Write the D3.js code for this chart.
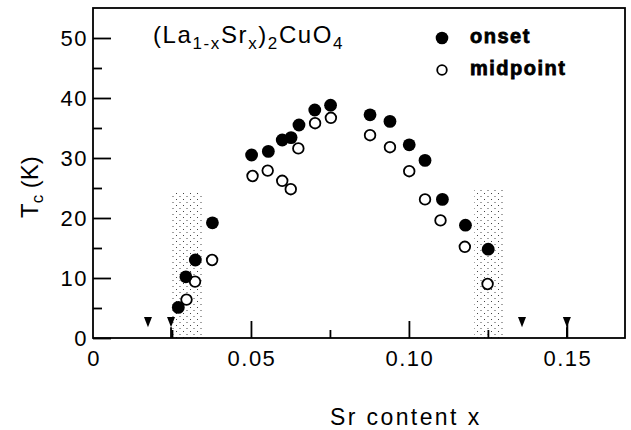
<!DOCTYPE html>
<html><head><meta charset="utf-8">
<script src="https://cdn.jsdelivr.net/npm/d3@7"></script>
<style>body{margin:0;background:#fff}svg{display:block}text{font-family:"Liberation Sans",Arial,sans-serif;fill:#000}</style>
</head><body>
<svg id="c" width="631" height="430"></svg>
<script>
const onsetX = [0.0270,0.0294,0.0324,0.0378,0.0502,0.0555,0.0599,0.0627,0.0652,0.0702,0.0752,0.0877,0.0940,0.1001,0.1051,0.1106,0.1179,0.1251];
const onsetY = [5.1,10.2,13.0,19.2,30.5,31.1,33.0,33.4,35.5,38.0,38.8,37.2,36.1,32.2,29.6,23.1,18.8,14.8];
const midX = [0.0296,0.0323,0.0377,0.0505,0.0553,0.0599,0.0626,0.0650,0.0703,0.0753,0.0877,0.0940,0.1001,0.1051,0.1100,0.1177,0.1249];
const midY = [6.4,9.4,13.0,27.0,27.9,26.2,24.8,31.6,35.8,36.7,33.8,31.8,27.8,23.1,19.6,15.2,9.0];
const shadeX0 = [0.0250,0.1206];
const shadeX1 = [0.0351,0.1304];
const shadeTop = [24.5,25.0];
const arrowX = [0.0174,0.0247,0.1358,0.150];
const xTicks = [0,0.05,0.10,0.15];
const xTickLabels = ["0","0.05","0.10","0.15"];
const xMinor = [0.025,0.075,0.125];
const yTicks = [0,10,20,30,40,50];
const yMinor = [5,15,25,35,45];

const svg = d3.select("#c");
const L=93,R=625,T=8,B=338;
const x = d3.scaleLinear().domain([0,0.1684]).range([L,R]);
const y = d3.scaleLinear().domain([0,55]).range([B,T]);

const defs = svg.append("defs");
const pat = defs.append("pattern").attr("id","dots").attr("patternUnits","userSpaceOnUse")
  .attr("width",7).attr("height",6);
pat.append("rect").attr("x",1).attr("y",1).attr("width",1).attr("height",1).attr("fill","#444");
pat.append("rect").attr("x",4.5).attr("y",4).attr("width",1).attr("height",1).attr("fill","#444");

// shaded regions
svg.selectAll("rect.shade").data(shadeX0).enter().append("rect").attr("class","shade")
  .attr("x",(d)=>x(d)).attr("width",(d,i)=>x(shadeX1[i])-x(d))
  .attr("y",(d,i)=>y(shadeTop[i])).attr("height",(d,i)=>y(0)-y(shadeTop[i]))
  .attr("fill","url(#dots)");

// frame
svg.append("rect").attr("x",L).attr("y",T).attr("width",R-L).attr("height",B-T)
  .attr("fill","none").attr("stroke","#000").attr("stroke-width",1.8);

// axes with inward ticks
const yAxis = d3.axisRight(y).tickValues(yTicks).tickSize(18).tickFormat("");
const gy = svg.append("g").attr("transform",`translate(${L},0)`).call(yAxis);
gy.select(".domain").remove();
gy.selectAll("line").attr("stroke-width",1.8);
const gym = svg.append("g").attr("transform",`translate(${L},0)`)
  .call(d3.axisRight(y).tickValues(yMinor).tickSize(9).tickFormat(""));
gym.select(".domain").remove(); gym.selectAll("line").attr("stroke-width",1.8);

const xAxis = d3.axisTop(x).tickValues(xTicks.slice(1)).tickSize(17).tickFormat("");
const gx = svg.append("g").attr("transform",`translate(0,${B})`).call(xAxis);
gx.select(".domain").remove(); gx.selectAll("line").attr("stroke-width",1.8);
const gxm = svg.append("g").attr("transform",`translate(0,${B})`)
  .call(d3.axisTop(x).tickValues(xMinor).tickSize(8).tickFormat(""));
gxm.select(".domain").remove(); gxm.selectAll("line").attr("stroke-width",1.8);

// tick labels
svg.selectAll("text.yl").data(yTicks).enter().append("text").attr("class","yl")
  .attr("x",L-5).attr("y",d=>y(d)+8).attr("text-anchor","end")
  .style("font-size","22px").style("letter-spacing","1.5px").text(d=>d);
svg.selectAll("text.xl").data(xTicks).enter().append("text").attr("class","xl")
  .attr("x",d=>x(d)+1).attr("y",B+28).attr("text-anchor","middle")
  .style("font-size","22px").style("letter-spacing","1.5px").text((d,i)=>xTickLabels[i]);

// arrows
svg.selectAll("path.arrow").data(arrowX).enter().append("path").attr("class","arrow")
  .attr("d",d=>`M${x(d)-4},${y(3.5)}L${x(d)+4},${y(3.5)}L${x(d)},${y(1.8)}Z`)
  .attr("fill","#000");
svg.selectAll("line.stem").data([arrowX[1],arrowX[3]]).enter().append("line")
  .attr("x1",d=>x(d)).attr("x2",d=>x(d)).attr("y1",y(1.8)).attr("y2",y(0))
  .attr("stroke","#000").attr("stroke-width",1.8);

// points
svg.selectAll("circle.mid").data(midX).enter().append("circle")
  .attr("cx",d=>x(d)).attr("cy",(d,i)=>y(midY[i])).attr("r",5.3)
  .attr("fill","#fff").attr("stroke","#000").attr("stroke-width",1.8);
svg.selectAll("circle.on").data(onsetX).enter().append("circle")
  .attr("cx",d=>x(d)).attr("cy",(d,i)=>y(onsetY[i])).attr("r",6.4).attr("fill","#000");

// title
const t = svg.append("text").attr("x",153).attr("y",43).style("font-size","24px").style("letter-spacing","1.6px");
const parts = [["(La",0],["1-x",1],["Sr",0],["x",1],[")",0],["2",1],["CuO",0],["4",1]];
let prevSub=false;
parts.forEach(([s,sub])=>{
  const ts=t.append("tspan").text(s);
  if(sub){ts.style("font-size","17px").attr("dy",prevSub?0:6);}
  else{ts.attr("dy",prevSub?-6:0);}
  prevSub=!!sub;
});

// legend
svg.append("circle").attr("cx",442).attr("cy",38).attr("r",6.3).attr("fill","#000");
svg.append("circle").attr("cx",442).attr("cy",70).attr("r",4.8).attr("fill","#fff").attr("stroke","#000").attr("stroke-width",1.8);
svg.append("text").attr("x",470).attr("y",43).style("font-size","20px").style("font-weight","bold")
  .style("letter-spacing","1.5px").attr("stroke","#000").attr("stroke-width",0.8).text("onset");
svg.append("text").attr("x",470).attr("y",75).style("font-size","20px").style("font-weight","bold")
  .style("letter-spacing","1.5px").attr("stroke","#000").attr("stroke-width",0.8).text("midpoint");

// axis titles
svg.append("text").attr("x",330).attr("y",425).style("font-size","23px").style("letter-spacing","2.4px").text("Sr content x");
const yt = svg.append("text").attr("transform","translate(38,218) rotate(-90)").style("font-size","24px");
yt.append("tspan").text("T");
yt.append("tspan").text("c").style("font-size","17px").attr("dy",5);
yt.append("tspan").text(" (K)").attr("dy",-5);
</script>
</body></html>
